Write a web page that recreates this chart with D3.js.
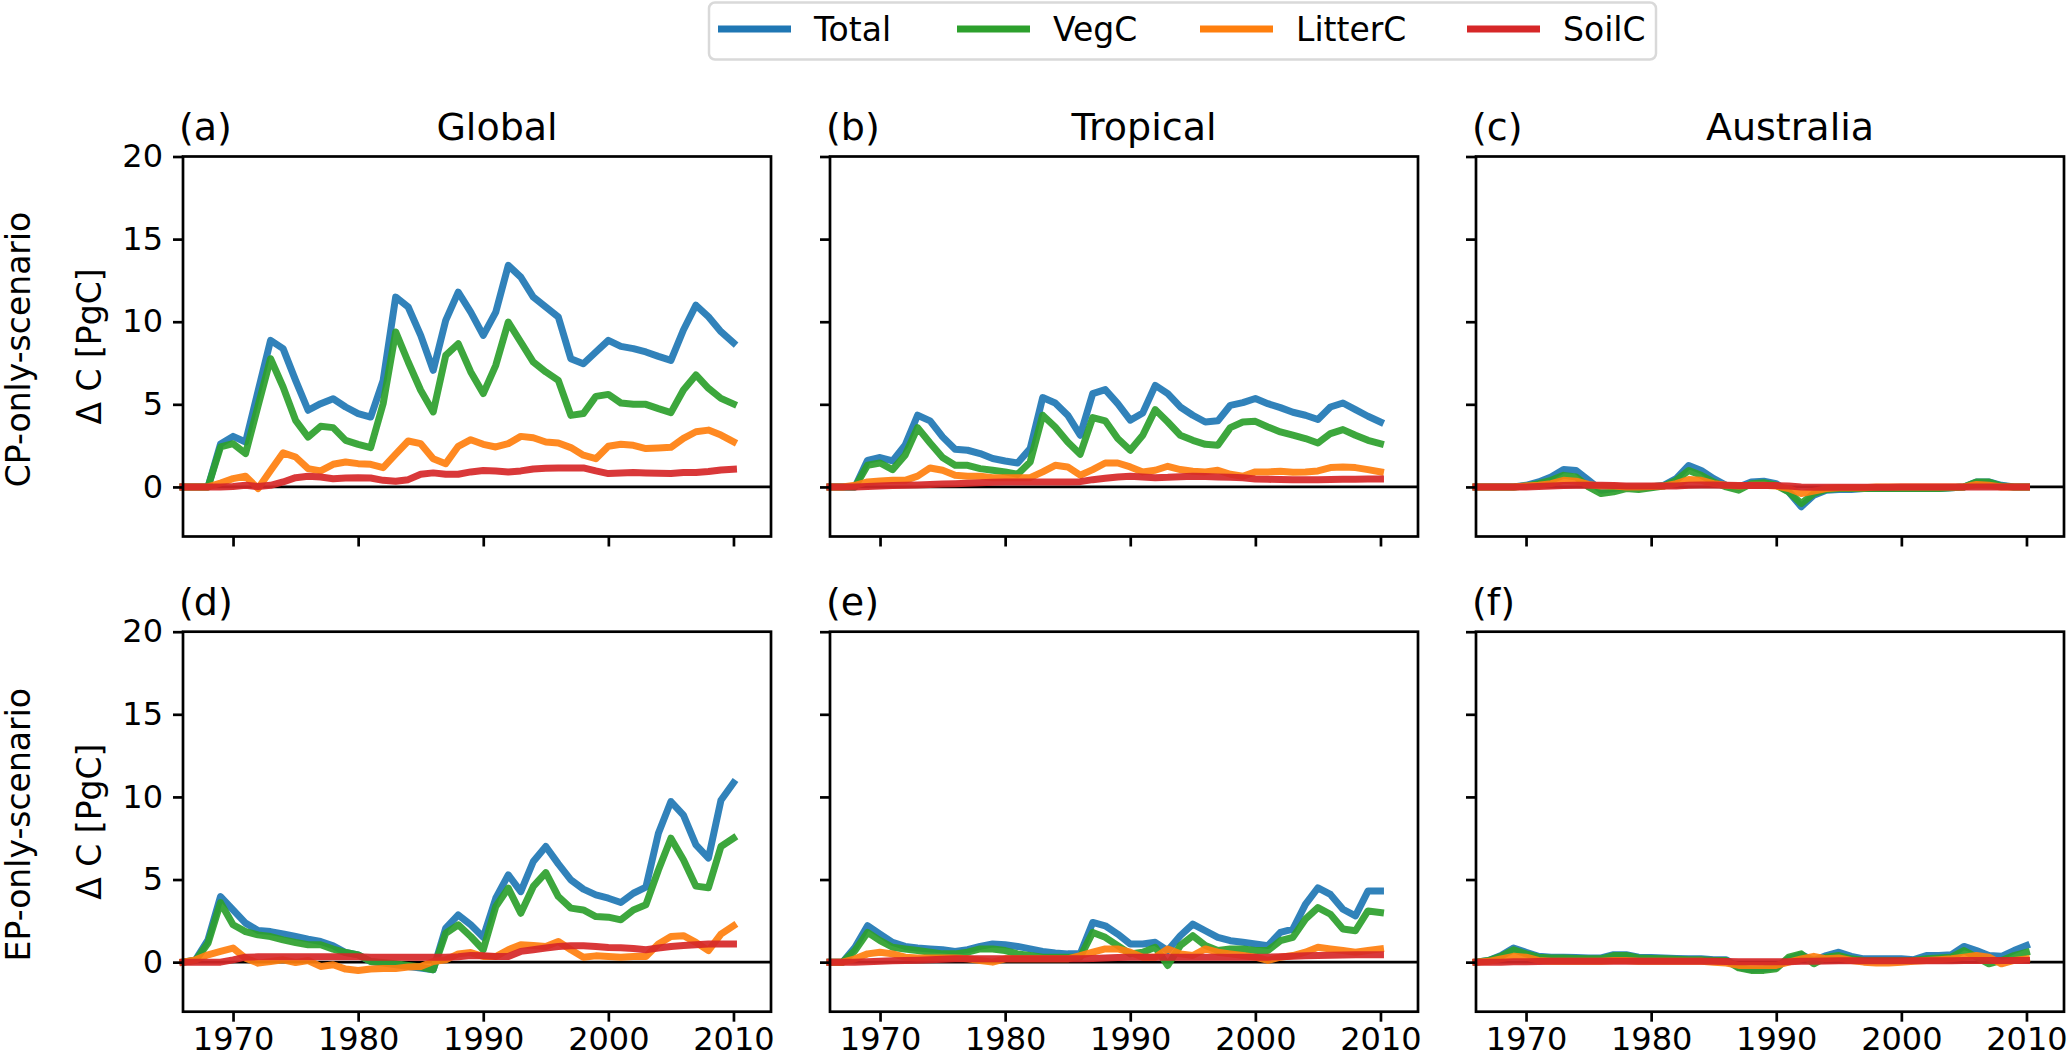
<!DOCTYPE html>
<html>
<head>
<meta charset="utf-8">
<script src="https://cdn.jsdelivr.net/npm/d3@7"></script>
<style>
  body { margin: 0; background: #fff; }
  svg { display: block; font-family: "DejaVu Sans", sans-serif; }
</style>
</head>
<body>
<svg id="chart" width="2067" height="1058"></svg>
<script>
// years 1966..2010
var years = d3.range(1966, 2011);
var seriesNames = ["Total", "VegC", "LitterC", "SoilC"];
var seriesColors = ["#1f77b4", "#2ca02c", "#ff7f0e", "#d62728"];
var regionTitles = ["Global", "Tropical", "Australia"];
var rowLabels = ["CP-only-scenario", "EP-only-scenario"];
var panelLetters = ["(a)", "(b)", "(c)", "(d)", "(e)", "(f)"];
var yTicks = [0, 5, 10, 15, 20];
var xTicks = [1970, 1980, 1990, 2000, 2010];

// (a) CP global
var cpGlobalTotal = [0,0,0,2.6,3.06,2.72,5.8,8.87,8.37,6.45, 4.64,5.04,5.34,4.84,4.44,4.23,6.45,11.49,10.89,9.17, 7.06,10.08,11.79,10.58,9.17,10.58,13.41,12.7,11.49,10.89, 10.28,7.76,7.46,8.17,8.87,8.51,8.37,8.17,7.9,7.66, 9.5,11.0,10.3,9.4,8.73];
var cpGlobalVeg = [0,0,0,2.42,2.62,2.02,4.9,7.76,6.05,4.03, 3.02,3.67,3.59,2.82,2.58,2.38,5.04,9.38,7.56,5.85, 4.54,7.96,8.67,6.96,5.65,7.36,9.98,8.77,7.56,6.96, 6.45,4.33,4.44,5.48,5.6,5.08,5.0,5.0,4.74,4.5, 5.87,6.78,5.97,5.36,5.02];
var cpGlobalLitter = [0,0,0,0.24,0.5,0.65,-0.1,1.0,2.06,1.81, 1.11,0.97,1.37,1.51,1.41,1.37,1.17,1.98,2.78,2.62, 1.71,1.41,2.46,2.86,2.58,2.42,2.62,3.06,2.98,2.72, 2.66,2.38,1.92,1.71,2.46,2.58,2.52,2.32,2.36,2.4, 2.94,3.34,3.44,3.14,2.74];
var cpGlobalSoil = [0,0,0,0,0.02,0.1,0.02,0.1,0.3,0.56, 0.65,0.6,0.5,0.54,0.56,0.54,0.4,0.34,0.44,0.77, 0.85,0.77,0.77,0.91,1.0,0.97,0.91,0.97,1.09,1.13, 1.15,1.15,1.15,0.97,0.81,0.85,0.87,0.85,0.83,0.81, 0.87,0.87,0.93,1.03,1.07];

// (b) CP tropical
var cpTropTotal = [0,0,0,1.61,1.78,1.57,2.52,4.34,4.0,3.03, 2.28,2.22,2.02,1.72,1.57,1.45,2.32,5.41,5.08,4.34, 3.13,5.65,5.89,5.04,4.04,4.48,6.15,5.65,4.84,4.34, 3.93,4.0,4.94,5.1,5.35,5.04,4.8,4.52,4.34,4.08, 4.84,5.08,4.68,4.28,3.93];
var cpTropVeg = [0,0,0,1.31,1.45,1.05,1.92,3.59,2.66,1.78, 1.31,1.31,1.11,1.01,0.91,0.77,1.51,4.34,3.63,2.72, 1.98,4.2,4.0,2.93,2.22,3.13,4.68,3.93,3.13,2.82, 2.58,2.52,3.59,3.93,3.97,3.63,3.33,3.13,2.93,2.66, 3.23,3.47,3.13,2.82,2.62];
var cpTropLitter = [0,0,0.1,0.3,0.36,0.4,0.4,0.65,1.15,1.01, 0.71,0.65,0.65,0.56,0.56,0.56,0.56,0.91,1.31,1.21, 0.71,1.05,1.45,1.45,1.21,0.91,1.01,1.25,1.05,0.95, 0.91,1.01,0.77,0.65,0.91,0.91,0.95,0.89,0.91,0.97, 1.17,1.21,1.17,1.05,0.91];
var cpTropSoil = [0,0,0,0.02,0.05,0.08,0.1,0.12,0.15,0.18, 0.2,0.22,0.25,0.28,0.3,0.3,0.3,0.3,0.3,0.3, 0.32,0.44,0.52,0.6,0.65,0.6,0.56,0.58,0.62,0.65, 0.63,0.6,0.58,0.56,0.48,0.46,0.45,0.44,0.44,0.44, 0.45,0.46,0.47,0.48,0.48];

// (c) CP australia
var cpAusTotal = [0,0,0,0,0.1,0.3,0.6,1.05,1.0,0.4, -0.2,-0.1,0,-0.05,0,0.1,0.5,1.3,1.0,0.5, 0.1,0,0.3,0.35,0.2,-0.3,-1.2,-0.5,-0.2,-0.15, -0.15,-0.1,-0.1,-0.1,-0.1,-0.1,-0.1,-0.1,-0.05,0, 0.3,0.3,0.1,0,0];
var cpAusVeg = [0,0,0,0,0.05,0.2,0.4,0.7,0.6,0, -0.4,-0.3,-0.1,-0.15,-0.05,0.05,0.4,1.0,0.7,0.3, 0,-0.2,0.2,0.25,0.1,-0.3,-1.0,-0.4,-0.15,-0.1, -0.1,-0.1,-0.1,-0.1,-0.1,-0.1,-0.1,-0.1,-0.05,0, 0.3,0.3,0.05,0,0];
var cpAusLitter = [0,0,0,0,0.05,0.1,0.2,0.4,0.35,0.15, 0.05,0.05,0,0,0.02,0.05,0.2,0.45,0.4,0.2, 0.1,0.05,0.1,0.1,0.05,-0.1,-0.4,-0.25,-0.1,-0.05, -0.05,-0.05,0,0,0,0,0,0,0,0, 0.15,0.1,0,0,0];
var cpAusSoil = [0,0,0,0,0,0.02,0.05,0.08,0.1,0.1, 0.1,0.08,0.06,0.05,0.05,0.05,0.06,0.1,0.12,0.12, 0.1,0.08,0.08,0.08,0.08,0.05,0,-0.02,-0.02,-0.02, -0.02,-0.02,-0.02,-0.02,0,0,0,0,0,0, 0,0,0,0,0];

// (d) EP global
var epGlobalTotal = [0,0.14,1.35,3.97,3.16,2.36,1.92,1.85,1.71,1.55, 1.39,1.25,0.99,0.58,0.44,0.04,-0.06,-0.16,-0.26,-0.36, -0.46,2.06,2.86,2.26,1.51,3.87,5.28,4.27,6.09,7.0, 5.95,4.98,4.42,4.07,3.87,3.61,4.17,4.54,7.8,9.72, 8.9,7.1,6.3,9.8,10.85];
var epGlobalVeg = [0,0.1,1.15,3.6,2.26,1.85,1.65,1.55,1.35,1.19, 1.05,1.05,0.79,0.58,0.44,0.04,-0.02,-0.1,-0.2,-0.3, -0.46,1.75,2.26,1.55,0.75,3.37,4.48,2.96,4.58,5.42, 3.97,3.27,3.16,2.76,2.72,2.56,3.16,3.47,5.58,7.5, 6.2,4.6,4.5,7.0,7.5];
var epGlobalLitter = [0,0.14,0.44,0.65,0.85,0.24,-0.06,0.04,0.14,-0.02, 0.1,-0.26,-0.16,-0.42,-0.5,-0.42,-0.38,-0.38,-0.3,-0.26, 0.04,0.14,0.5,0.58,0.34,0.34,0.75,1.05,1.01,0.95, 1.25,0.75,0.3,0.38,0.34,0.3,0.34,0.34,1.1,1.55, 1.6,1.2,0.7,1.7,2.2];
var epGlobalSoil = [0,0,0,0,0.14,0.3,0.32,0.33,0.33,0.33, 0.33,0.33,0.33,0.33,0.32,0.3,0.3,0.3,0.3,0.3, 0.3,0.3,0.32,0.4,0.38,0.34,0.34,0.65,0.75,0.85, 0.95,0.99,0.99,0.95,0.89,0.87,0.83,0.75,0.85,0.95, 1.0,1.05,1.1,1.1,1.1];

// (e) EP tropical
var epTropTotal = [0,0,0.9,2.2,1.7,1.2,0.95,0.85,0.8,0.75, 0.65,0.75,0.95,1.1,1.05,0.95,0.8,0.65,0.55,0.5, 0.5,2.4,2.2,1.7,1.1,1.1,1.2,0.7,1.6,2.3, 1.9,1.5,1.3,1.2,1.1,1.0,1.8,2.0,3.5,4.5, 4.1,3.2,2.8,4.3,4.3];
var epTropVeg = [0,0,0.7,1.8,1.3,0.9,0.8,0.7,0.6,0.5, 0.5,0.6,0.8,0.8,0.7,0.5,0.4,0.3,0.3,0.3, 0.3,1.8,1.5,1.0,0.5,0.6,0.9,-0.2,1.0,1.6, 1.0,0.7,0.8,0.8,0.7,0.7,1.3,1.5,2.6,3.3, 2.9,2.0,1.9,3.1,3.0];
var epTropLitter = [0,0,0.2,0.5,0.6,0.5,0.3,0.25,0.25,0.25, 0.25,0.2,0.1,0,0.2,0.2,0.2,0.2,0.2,0.2, 0.4,0.6,0.8,0.8,0.6,0.3,0.3,0.8,0.5,0.4, 0.8,0.6,0.5,0.4,0.3,0.1,0.3,0.4,0.6,0.9, 0.8,0.7,0.6,0.7,0.8];
var epTropSoil = [0,0,0,0.02,0.05,0.08,0.1,0.12,0.15,0.18, 0.2,0.2,0.2,0.2,0.2,0.2,0.2,0.2,0.2,0.2, 0.2,0.22,0.25,0.28,0.3,0.3,0.3,0.3,0.3,0.3, 0.3,0.3,0.3,0.3,0.3,0.3,0.32,0.35,0.38,0.4, 0.42,0.43,0.44,0.45,0.45];

// (f) EP australia
var epAusTotal = [0,0.1,0.4,0.85,0.6,0.35,0.3,0.3,0.28,0.25, 0.25,0.45,0.45,0.3,0.28,0.25,0.22,0.2,0.2,0.15, 0.15,-0.3,-0.45,-0.4,-0.3,0.2,0.45,0.1,0.4,0.6, 0.35,0.2,0.2,0.2,0.2,0.15,0.4,0.4,0.45,0.95, 0.7,0.4,0.35,0.7,1.0];
var epAusVeg = [0,0.1,0.35,0.75,0.5,0.3,0.25,0.25,0.22,0.2, 0.2,0.4,0.4,0.25,0.22,0.2,0.18,0.15,0.15,0.1, 0.1,-0.35,-0.5,-0.5,-0.4,0.3,0.5,-0.1,0.3,0.4, 0.2,0.1,0.1,0.1,0.1,0.1,0.2,0.25,0.3,0.7, 0.3,-0.1,0.1,0.4,0.6];
var epAusLitter = [0,0.05,0.2,0.35,0.3,0.1,0.05,0.05,0.05,0.05, 0.05,0.1,0.1,0.05,0.05,0.05,0.05,0.05,0.05,0, -0.05,-0.2,-0.2,-0.2,-0.2,0,0.2,0.35,0.2,0.25, 0.1,0,-0.05,-0.05,0,0.05,0.1,0.15,0.2,0.3, 0.4,0.3,-0.1,0.1,0.2];
var epAusSoil = [0,0,0,0.02,0.03,0.04,0.05,0.05,0.05,0.05, 0.05,0.05,0.05,0.05,0.05,0.05,0.05,0.05,0.05,0.05, 0.04,0.03,0.02,0.02,0.02,0.03,0.05,0.06,0.07,0.08, 0.08,0.08,0.08,0.08,0.08,0.08,0.08,0.08,0.09,0.1, 0.1,0.1,0.1,0.1,0.1];

var panels = [
  [cpGlobalTotal, cpGlobalVeg, cpGlobalLitter, cpGlobalSoil],
  [cpTropTotal, cpTropVeg, cpTropLitter, cpTropSoil],
  [cpAusTotal, cpAusVeg, cpAusLitter, cpAusSoil],
  [epGlobalTotal, epGlobalVeg, epGlobalLitter, epGlobalSoil],
  [epTropTotal, epTropVeg, epTropLitter, epTropSoil],
  [epAusTotal, epAusVeg, epAusLitter, epAusSoil]
];

var svg = d3.select("#chart");

var colLeft = [183, 830, 1476],
    rowTop = [156.5, 631.7],
    panelW = 588,
    panelH = 380;

var x = d3.scaleLinear().domain([1966, 2013]).range([0, panelW]);
var y = d3.scaleLinear().domain([-3, 20]).range([panelH, 0]);

var line = d3.line()
    .x(function(d) { return x(d[0]); })
    .y(function(d) { return y(d[1]); });

panels.forEach(function(series, i) {
  var row = Math.floor(i / 3), col = i % 3;
  var g = svg.append("g")
      .attr("transform", "translate(" + colLeft[col] + "," + rowTop[row] + ")");

  // zero line
  g.append("line")
      .attr("x1", 0).attr("x2", panelW)
      .attr("y1", y(0)).attr("y2", y(0))
      .attr("stroke", "#000").attr("stroke-width", 2.7);

  series.forEach(function(vals, k) {
    g.append("path")
        .datum(years.map(function(yr, j) { return [yr, vals[j]]; }))
        .attr("d", line)
        .attr("fill", "none")
        .attr("stroke", seriesColors[k])
        .attr("stroke-opacity", 0.92)
        .attr("stroke-width", 7)
        .attr("stroke-linejoin", "round")
        .attr("stroke-linecap", "square");
  });

  var yAxis = d3.axisLeft(y).tickValues(yTicks).tickSize(10).tickSizeOuter(0).tickPadding(10);
  if (col > 0) yAxis.tickFormat("");
  var xAxis = d3.axisBottom(x).tickValues(xTicks).tickSize(10).tickSizeOuter(0).tickPadding(6)
      .tickFormat(d3.format("d"));
  if (row === 0) xAxis.tickFormat("");

  var ya = g.append("g").call(yAxis);
  var xa = g.append("g").attr("transform", "translate(0," + panelH + ")").call(xAxis);
  [ya, xa].forEach(function(a) {
    a.select(".domain").remove();
    a.selectAll("line").attr("stroke", "#000").attr("stroke-width", 2.7);
    a.selectAll("text")
        .attr("fill", "#000")
        .style("font-size", "32px")
        .style("font-family", "DejaVu Sans");
  });

  // frame
  g.append("rect")
      .attr("width", panelW).attr("height", panelH)
      .attr("fill", "none").attr("stroke", "#000").attr("stroke-width", 2.7);

  // panel letter and region title
  var titleY = -16.5;
  g.append("text")
      .attr("x", -4).attr("y", titleY)
      .style("font-size", "38px")
      .text(panelLetters[i]);
  if (row === 0) {
    g.append("text")
        .attr("x", 314).attr("y", titleY)
        .attr("text-anchor", "middle")
        .style("font-size", "38px")
        .text(regionTitles[col]);
  }
});

// row labels
rowLabels.forEach(function(lbl, r) {
  var cy = rowTop[r] + panelH / 2;
  svg.append("text")
      .attr("transform", "translate(30," + (cy + 3) + ") rotate(-90)")
      .attr("text-anchor", "middle")
      .style("font-size", "33px")
      .text(lbl);
  svg.append("text")
      .attr("transform", "translate(101," + cy + ") rotate(-90)")
      .attr("text-anchor", "middle")
      .style("font-size", "33px")
      .text("\u0394 C [PgC]");
});

// legend
var legend = svg.append("g");
legend.append("rect")
    .attr("x", 709).attr("y", 2.5)
    .attr("width", 947).attr("height", 57)
    .attr("rx", 6)
    .attr("fill", "#fff")
    .attr("stroke", "#d9d9d9")
    .attr("stroke-width", 2.5);
var legX = [718, 957, 1200, 1467];
seriesNames.forEach(function(name, k) {
  legend.append("line")
      .attr("x1", legX[k]).attr("x2", legX[k] + 73)
      .attr("y1", 29).attr("y2", 29)
      .attr("stroke", seriesColors[k])
      .attr("stroke-width", 7);
  legend.append("text")
      .attr("x", legX[k] + 96).attr("y", 41)
      .style("font-size", "33px")
      .text(name);
});
</script>
</body>
</html>
